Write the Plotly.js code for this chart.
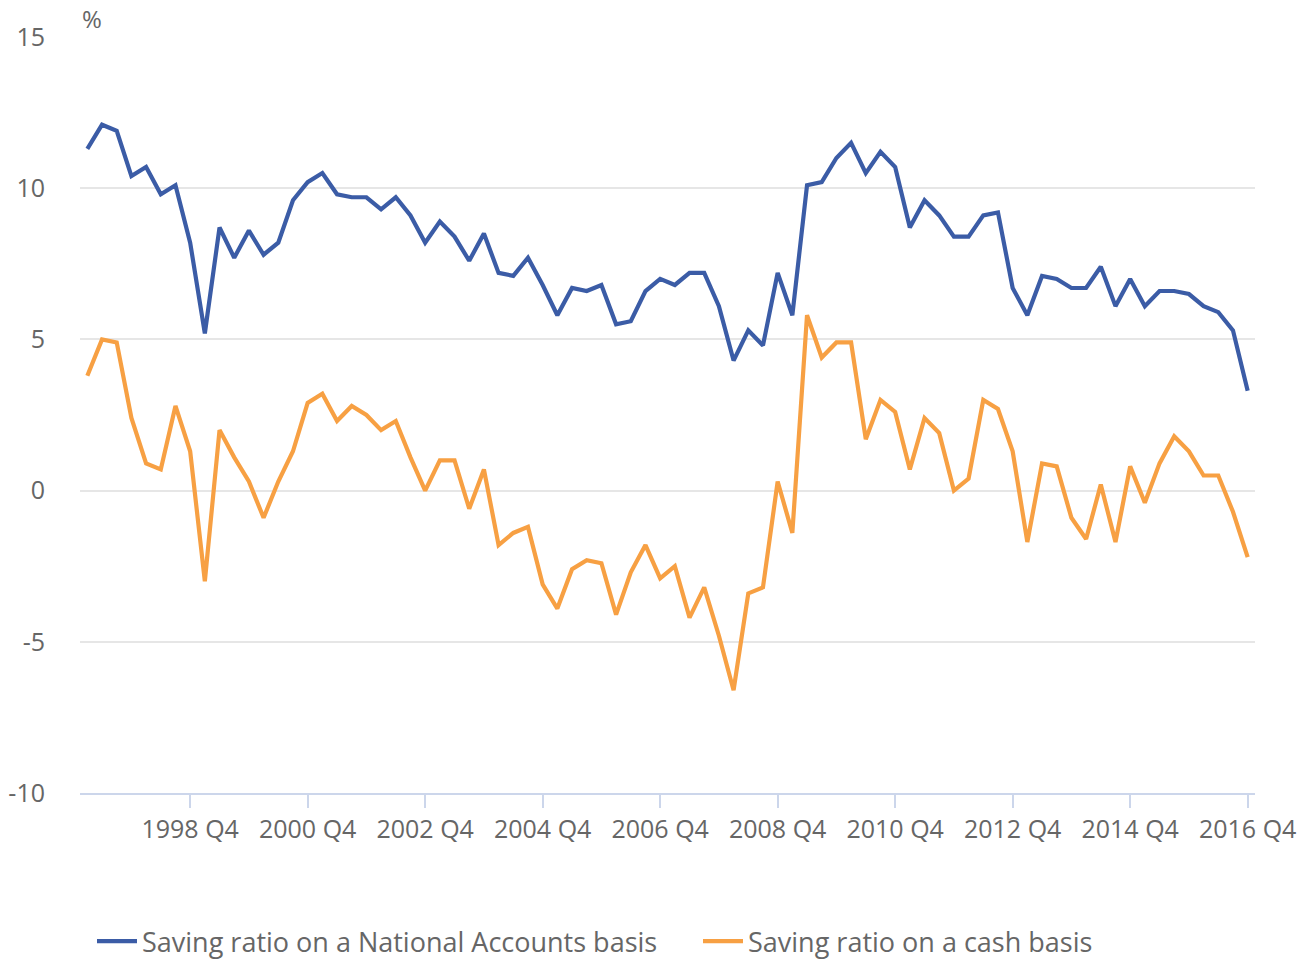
<!DOCTYPE html>
<html>
<head>
<meta charset="utf-8">
<script src="https://cdn.plot.ly/plotly-3.0.1.min.js"></script>
<style>
html,body{margin:0;padding:0;background:#fff;}
#chart{width:1306px;height:966px;}
</style>
</head>
<body>
<div id="chart"></div>
<script>
var quarters = [
"1997 Q1","1997 Q2","1997 Q3","1997 Q4","1998 Q1","1998 Q2","1998 Q3","1998 Q4",
"1999 Q1","1999 Q2","1999 Q3","1999 Q4","2000 Q1","2000 Q2","2000 Q3","2000 Q4",
"2001 Q1","2001 Q2","2001 Q3","2001 Q4","2002 Q1","2002 Q2","2002 Q3","2002 Q4",
"2003 Q1","2003 Q2","2003 Q3","2003 Q4","2004 Q1","2004 Q2","2004 Q3","2004 Q4",
"2005 Q1","2005 Q2","2005 Q3","2005 Q4","2006 Q1","2006 Q2","2006 Q3","2006 Q4",
"2007 Q1","2007 Q2","2007 Q3","2007 Q4","2008 Q1","2008 Q2","2008 Q3","2008 Q4",
"2009 Q1","2009 Q2","2009 Q3","2009 Q4","2010 Q1","2010 Q2","2010 Q3","2010 Q4",
"2011 Q1","2011 Q2","2011 Q3","2011 Q4","2012 Q1","2012 Q2","2012 Q3","2012 Q4",
"2013 Q1","2013 Q2","2013 Q3","2013 Q4","2014 Q1","2014 Q2","2014 Q3","2014 Q4",
"2015 Q1","2015 Q2","2015 Q3","2015 Q4","2016 Q1","2016 Q2","2016 Q3","2016 Q4"
];

var nationalAccounts = [
11.3,12.1,11.9,10.4,10.7,9.8,10.1,8.2,5.2,8.7,
7.7,8.6,7.8,8.2,9.6,10.2,10.5,9.8,9.7,9.7,
9.3,9.7,9.1,8.2,8.9,8.4,7.6,8.5,7.2,7.1,
7.7,6.8,5.8,6.7,6.6,6.8,5.5,5.6,6.6,7.0,
6.8,7.2,7.2,6.1,4.3,5.3,4.8,7.2,5.8,10.1,
10.2,11.0,11.5,10.5,11.2,10.7,8.7,9.6,9.1,8.4,
8.4,9.1,9.2,6.7,5.8,7.1,7.0,6.7,6.7,7.4,
6.1,7.0,6.1,6.6,6.6,6.5,6.1,5.9,5.3,3.3
];

var cashBasis = [
3.8,5.0,4.9,2.4,0.9,0.7,2.8,1.3,-3.0,2.0,
1.1,0.3,-0.9,0.3,1.3,2.9,3.2,2.3,2.8,2.5,
2.0,2.3,1.1,0.0,1.0,1.0,-0.6,0.7,-1.8,-1.4,
-1.2,-3.1,-3.9,-2.6,-2.3,-2.4,-4.1,-2.7,-1.8,-2.9,
-2.5,-4.2,-3.2,-4.8,-6.6,-3.4,-3.2,0.3,-1.4,5.8,
4.4,4.9,4.9,1.7,3.0,2.6,0.7,2.4,1.9,0.0,
0.4,3.0,2.7,1.3,-1.7,0.9,0.8,-0.9,-1.6,0.2,
-1.7,0.8,-0.4,0.9,1.8,1.3,0.5,0.5,-0.7,-2.2
];

var xTickLabels = ["1998 Q4","2000 Q4","2002 Q4","2004 Q4","2006 Q4","2008 Q4","2010 Q4","2012 Q4","2014 Q4","2016 Q4"];
var yTickValues = [-10,-5,0,5,10,15];
var seriesNames = ["Saving ratio on a National Accounts basis","Saving ratio on a cash basis"];

var FONT = "'Open Sans', 'Noto Sans', sans-serif";
var TEXT = "#666666";

var traces = [
  {x: quarters, y: nationalAccounts, name: seriesNames[0], type: "scatter", mode: "lines",
   line: {color: "#3b5ca6", width: 4.2}, legend: "legend"},
  {x: quarters, y: cashBasis, name: seriesNames[1], type: "scatter", mode: "lines",
   line: {color: "#f7a043", width: 4.2}, legend: "legend2"}
];

function legendAt(xpx) {
  return {orientation: "h", xref: "container", yref: "container", x: xpx / 1306, y: 0,
          xanchor: "left", yanchor: "bottom", bgcolor: "rgba(0,0,0,0)",
          font: {family: FONT, size: 27, color: TEXT}, itemwidth: 40};
}

var layout = {
  width: 1306, height: 966,
  margin: {l: 80, r: 51, t: 37, b: 173},
  paper_bgcolor: "#ffffff", plot_bgcolor: "#ffffff",
  font: {family: FONT, color: TEXT, size: 25},
  showlegend: true,
  legend: legendAt(92),
  legend2: legendAt(698),
  xaxis: {
    type: "category", categoryorder: "array", categoryarray: quarters,
    range: [-0.5, 79.5],
    tickmode: "array", tickvals: xTickLabels, ticktext: xTickLabels,
    showgrid: false, zeroline: false,
    showline: true, linecolor: "#ccd6eb", linewidth: 2,
    ticks: "outside", ticklen: 13, tickwidth: 2, tickcolor: "#ccd6eb",
    tickfont: {family: FONT, size: 25, color: TEXT},
    ticklabelstandoff: 0
  },
  yaxis: {
    range: [-10, 15],
    tickmode: "array", tickvals: yTickValues, ticktext: yTickValues.map(String),
    showgrid: true, gridcolor: "#e6e6e6", gridwidth: 2,
    zeroline: false, showline: false, ticks: "",
    tickfont: {family: FONT, size: 25, color: TEXT},
    ticklabelstandoff: 34
  },
  annotations: [
    {text: "%", xref: "paper", yref: "paper", x: 0, y: 1, xanchor: "left", yanchor: "bottom",
     yshift: 0, showarrow: false, font: {family: FONT, size: 24, color: TEXT}}
  ]
};

Plotly.newPlot("chart", traces, layout, {displayModeBar: false, staticPlot: true});
</script>
</body>
</html>
